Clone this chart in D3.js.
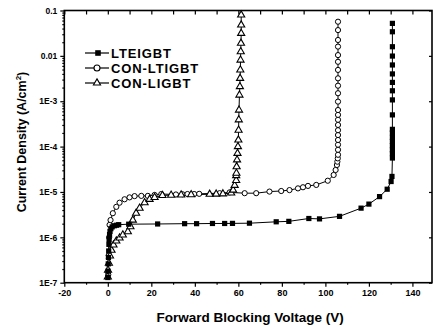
<!DOCTYPE html>
<html><head><meta charset="utf-8">
<script src="https://cdn.jsdelivr.net/npm/d3@7"></script>
<style>
html,body{margin:0;padding:0;background:#fff;}
svg{display:block;font-family:"Liberation Sans",Arial,sans-serif;font-weight:bold;}
</style></head>
<body><svg id="c" width="433" height="329"></svg>
<script>
// ---- data ----
const lteV = [0,0.1,0.2,0.3,0.4,0.5,0.6,0.8,1.0,1.4,2.0,3.0,4.0,5.0,9.6,22.9,35.3,40.8,48.1,53.7,57.3,65.1,77.4,83.2,92.4,97.3,106.5,116.4,120,124.9,128.4,130.2,130.6,130.8,130.8,130.8,130.8,130.8,130.8,130.8,130.8,130.8,130.8,130.8,130.8,130.8,130.8,130.8,130.8,130.8,130.8];
const lteJ = [1.3e-7,1.8e-7,2.6e-7,3.6e-7,5e-7,7e-7,9e-7,1.15e-6,1.35e-6,1.55e-6,1.7e-6,1.8e-6,1.85e-6,1.9e-6,1.95e-6,1.97e-6,2.0e-6,2.0e-6,2.02e-6,2.02e-6,2.03e-6,2.05e-6,2.2e-6,2.25e-6,2.6e-6,2.55e-6,2.9e-6,4.4e-6,5.4e-6,7.9e-6,1.15e-5,1.7e-5,2.2e-5,5.6e-5,7e-5,8.5e-5,1.05e-4,1.3e-4,1.6e-4,2.0e-4,2.4e-4,5.0e-4,1.07e-3,1.7e-3,2.6e-3,4.0e-3,6.3e-3,9.9e-3,1.59e-2,3.4e-2,5.2e-2];
const conltV = [0.2,0.4,0.6,0.8,1.25,2.3,3.9,5.4,7.7,10,12.3,15.4,18.4,21.5,24.6,31.3,34.3,36.6,39.7,42,51.4,56,62.9,68.2,74.3,79.7,83.5,87.4,89.7,92,95.8,101.1,103.8,104.7,105.3,105.5,105.7,105.8,105.8,105.8,105.8,105.8,105.8,105.8,105.8,105.8,105.8,105.8,105.8,105.8,105.8,105.8,105.8,105.8,105.8,105.8,105.8,105.8];
const conltJ = [1.5e-7,4e-7,1.0e-6,1.88e-6,2.4e-6,3.4e-6,4.7e-6,5.8e-6,6.9e-6,7.6e-6,8.1e-6,8.2e-6,8.2e-6,8.6e-6,9.0e-6,8.8e-6,8.9e-6,9.0e-6,9.0e-6,9.1e-6,9.4e-6,9.8e-6,9.4e-6,9.4e-6,1.02e-5,1.05e-5,1.1e-5,1.2e-5,1.27e-5,1.36e-5,1.43e-5,1.77e-5,2.37e-5,3.05e-5,3.93e-5,4.65e-5,5.5e-5,6.6e-5,8.5e-5,1.1e-4,1.4e-4,1.8e-4,2.3e-4,3.0e-4,3.9e-4,5.0e-4,6.4e-4,9.8e-4,1.5e-3,2.2e-3,3.2e-3,4.9e-3,7.4e-3,1.04e-2,1.6e-2,2.24e-2,3.7e-2,5.66e-2];
const conlV = [0,0.1,0.5,1,1.7,2.6,3.9,5.4,6.9,9.2,10.4,11.5,13,14.6,16.9,19.2,21.5,25.1,29.1,33.7,38.3,46.8,49.8,52.9,56.7,57.6,58.3,59,59,59.1,59.2,59.4,59.6,59.8,60,60.1,60.2,60.3,60.5,60.7,60.8,60.9,61,61.1,61.2,61.3,61.3,61.3];
const conlJ = [1.34e-7,1.9e-7,2.7e-7,3.9e-7,5.2e-7,6.8e-7,8.3e-7,9.7e-7,1.13e-6,1.33e-6,1.72e-6,2.4e-6,3.4e-6,4.4e-6,5.8e-6,6.9e-6,7.6e-6,8.4e-6,8.5e-6,8.6e-6,8.7e-6,8.9e-6,9.0e-6,9.1e-6,9.5e-6,1.1e-5,1.4e-5,1.8e-5,2.3e-5,2.6e-5,3.6e-5,5.1e-5,7.1e-5,1.0e-4,1.4e-4,2.3e-4,3.9e-4,6.4e-4,1.37e-3,2.1e-3,3.2e-3,4.9e-3,8.1e-3,1.24e-2,1.9e-2,3.14e-2,4.79e-2,7.96e-2];
const seriesNames = ["LTEIGBT","CON-LTIGBT","CON-LIGBT"];
const xTicks = [-20,0,20,40,60,80,100,120,140];
const xTickLabels = ["-20","0","20","40","60","80","100","120","140"];
const yTicks = [1e-1,1e-2,1e-3,1e-4,1e-5,1e-6,1e-7];
const yTickLabels = ["0.1","0.01","1E-3","1E-4","1E-5","1E-6","1E-7"];
const xTitle = "Forward Blocking Voltage (V)";

// ---- layout ----
const L = 64.3, R = 432, T = 10.5, B = 282.7;
const svg = d3.select("#c");
const x = d3.scaleLinear().domain([-20,149]).range([L,R]);
const y = d3.scaleLog().domain([1e-7,0.1]).range([B,T]);

const xMinor = d3.range(-20,150,10);
const yMinor = [];
for (let e=-7;e<-1;e++) for (let k=2;k<=9;k++) yMinor.push(k*Math.pow(10,e));

const g = svg.append("g");
const bx = d3.axisBottom(x).tickValues(xTicks).tickSize(4).tickFormat((d,i)=>xTickLabels[i]);
const gb = g.append("g").attr("transform",`translate(0,${B})`).call(bx);
gb.selectAll("text").attr("font-size",9).attr("dy","0.75em").attr("font-family","Liberation Sans, Arial").attr("font-weight","bold");
g.append("g").attr("transform",`translate(0,${B})`).call(d3.axisBottom(x).tickValues(xMinor.filter(v=>v%20!==0)).tickSize(2).tickFormat(""));
g.append("g").attr("transform",`translate(0,${T})`).call(d3.axisBottom(x).tickValues(xMinor).tickSize(4).tickFormat(""));
const ly = d3.axisLeft(y).tickValues(yTicks).tickSize(4).tickFormat((d,i)=>yTickLabels[i]);
const gl = g.append("g").attr("transform",`translate(${L},0)`).call(ly);
gl.selectAll("text").attr("font-size",8.5).attr("font-family","Liberation Sans, Arial").attr("font-weight","bold").attr("x",-7);
g.append("g").attr("transform",`translate(${L},0)`).call(d3.axisLeft(y).tickValues(yMinor).tickSize(2).tickFormat(""));
g.append("g").attr("transform",`translate(${R},0)`).call(d3.axisLeft(y).tickValues(yTicks).tickSize(3).tickFormat(""));
g.selectAll(".domain").remove();
g.selectAll("line").attr("stroke","#000").attr("stroke-width",1.2);
svg.append("rect").attr("x",L).attr("y",T).attr("width",R-L).attr("height",B-T)
  .attr("fill","none").attr("stroke","#000").attr("stroke-width",1.6);

svg.append("text").attr("x",(L+R)/2+2).attr("y",322).attr("text-anchor","middle")
  .attr("font-size",13.5).text(xTitle);
const yt = svg.append("text").attr("transform","translate(26,142) rotate(-90)")
  .attr("text-anchor","middle").attr("font-size",12.5);
yt.append("tspan").text("Current Density (A/cm");
yt.append("tspan").attr("font-size",8).attr("dy",-5).text("2");
yt.append("tspan").attr("dy",5).text(")");

const line = d3.line().x(d=>x(d[0])).y(d=>y(d[1]));
const s1 = lteV.map((v,i)=>[v,lteJ[i]]);
const s2 = conltV.map((v,i)=>[v,conltJ[i]]);
const s3 = conlV.map((v,i)=>[v,conlJ[i]]);
const plot = svg.append("g");
[s2,s3,s1].forEach(s=>plot.append("path").datum(s).attr("d",line).attr("fill","none").attr("stroke","#000").attr("stroke-width",1));

const tri = d3.symbol().type(d3.symbolTriangle).size(22);
plot.append("g").selectAll("circle").data(s2).join("circle")
  .attr("cx",d=>x(d[0])).attr("cy",d=>y(d[1])).attr("r",2.6)
  .attr("fill","#fff").attr("stroke","#000").attr("stroke-width",1);
plot.append("g").selectAll("path").data(s3).join("path")
  .attr("d",tri).attr("transform",d=>`translate(${x(d[0])},${y(d[1])})`)
  .attr("fill","#fff").attr("stroke","#000").attr("stroke-width",1.1);
plot.append("g").selectAll("rect").data(s1).join("rect")
  .attr("x",d=>x(d[0])-2.6).attr("y",d=>y(d[1])-2.6).attr("width",5.2).attr("height",5.2)
  .attr("fill","#000");

const lg = svg.append("g");
const rowsY = [53,68,83];
seriesNames.forEach((n,i)=>{
  const yy = rowsY[i];
  lg.append("line").attr("x1",85).attr("x2",109).attr("y1",yy).attr("y2",yy).attr("stroke","#000").attr("stroke-width",1.2);
  if (i===0) lg.append("rect").attr("x",98-2.8).attr("y",yy-2.8).attr("width",5.6).attr("height",5.6).attr("fill","#000");
  if (i===1) lg.append("circle").attr("cx",97).attr("cy",yy).attr("r",3).attr("fill","#fff").attr("stroke","#000").attr("stroke-width",1.1);
  if (i===2) lg.append("path").attr("d",tri).attr("transform",`translate(97,${yy})`).attr("fill","#fff").attr("stroke","#000").attr("stroke-width",1.1);
  lg.append("text").attr("x",111).attr("y",yy+4.5).attr("font-size",13).attr("letter-spacing",0.9).text(n);
});
</script></body></html>
